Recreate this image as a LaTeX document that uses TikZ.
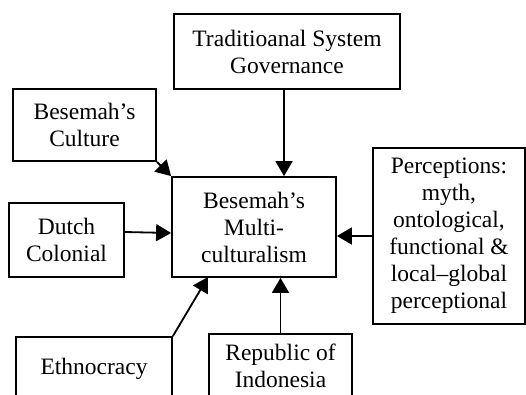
\documentclass[tikz,border=0pt]{standalone}
\usepackage{fontspec}
\setmainfont{Liberation Serif}
\usetikzlibrary{arrows.meta}

\begin{document}
\begin{tikzpicture}[x=1pt,y=-1pt,
box/.style={draw,line width=1.8pt,align=center,inner sep=0pt,font=\fontsize{23.5}{27}\selectfont},
link/.style={-{Triangle[length=15pt,width=17pt]},line width=1.8pt}]
\useasboundingbox (0,0) rectangle (526,394);
\clip (0,0) rectangle (526,394);
% The boxes
\node[box,minimum width=226pt,minimum height=75pt] at (287,51.5) (trad) {Traditioanal System\\Governance};
\node[box,minimum width=143pt,minimum height=72pt] at (84.5,125) (culture) {Besemah’s\\Culture};
\node[box,minimum width=164pt,minimum height=100pt] at (254,227) (multi) {Besemah’s\\Multi-\\culturalism};
\node[box,minimum width=152pt,minimum height=176pt] at (449,236) (percep) {Perceptions:\\myth,\\ontological,\\functional \&\\local–global\\perceptional};
\node[box,minimum width=115pt,minimum height=74pt] at (66.5,240) (dutch) {Dutch\\Colonial};
\node[box,minimum width=156pt,minimum height=64pt] at (94,369) (ethno) {Ethnocracy};
\node[box,minimum width=143pt,minimum height=64pt] at (280.5,366) (repub) {Republic of\\Indonesia};
% The arrows
\coordinate (ethtip) at (208,277);
\draw[link] ([xshift=-3pt]trad.south) -- ([xshift=-3pt]trad.south |- multi.north);
\draw[link] (culture.south east) -- (multi.north west);
\draw[link] ([yshift=8pt]dutch.east) -- ([yshift=7pt]dutch.east -| multi.west);
\draw[link] (percep.west) -- (percep.west -| multi.east);
\draw[link] (ethno.north east) -- (ethtip);
\draw[link] (repub.north) -- (repub.north |- multi.south);
\end{tikzpicture}
\end{document}
